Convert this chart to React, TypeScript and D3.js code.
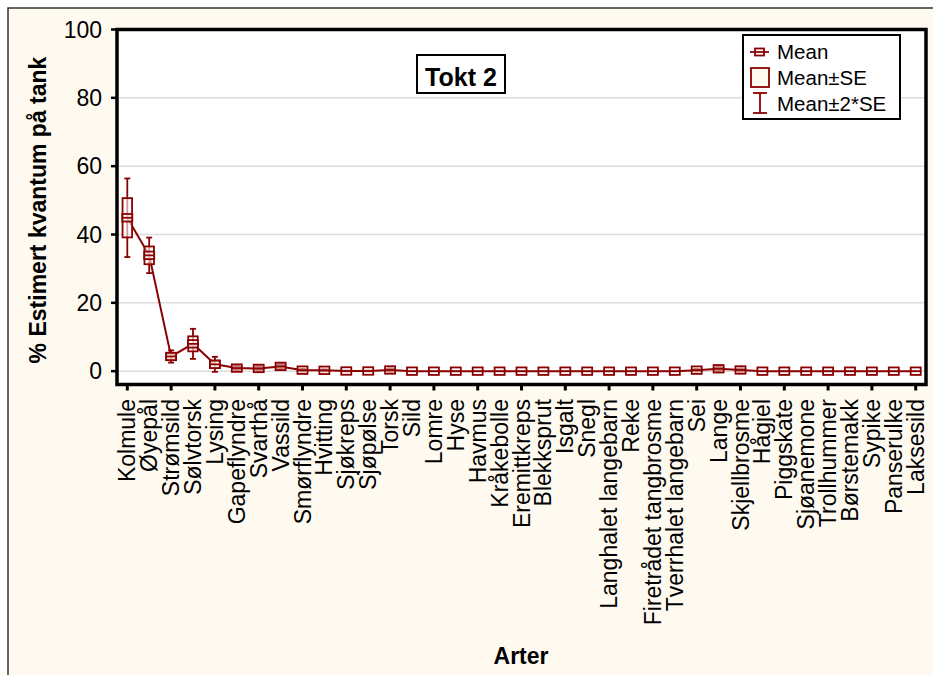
import React from "react";
import * as d3 from "d3";

const categories = [
  "Kolmule", "Øyepål", "Strømsild", "Sølvtorsk", "Lysing", "Gapeflyndre", "Svarthå", "Vassild",
  "Smørflyndre", "Hvitting", "Sjøkreps", "Sjøpølse", "Torsk", "Sild", "Lomre", "Hyse", "Havmus",
  "Kråkebolle", "Eremittkreps", "Blekksprut", "Isgalt", "Snegl", "Langhalet langebarn", "Reke",
  "Firetrådet tangbrosme", "Tverrhalet langebarn", "Sei", "Lange", "Skjellbrosme", "Hågjel",
  "Piggskate", "Sjøanemone", "Trollhummer", "Børstemakk", "Sypike", "Panserulke", "Laksesild",
];
const means = [
  44.9, 33.9, 4.3, 8.0, 2.0, 0.9, 0.8, 1.4, 0.3, 0.25, 0.05, 0.05, 0.35, 0, 0, 0, 0,
  0, 0, 0, 0, 0, 0, 0, 0, 0, 0.3, 0.7, 0.35, 0, 0, 0, 0, 0, 0, 0, 0,
];
const se = [
  5.75, 2.6, 0.9, 2.2, 1.1, 0.4, 0.35, 0.45, 0.2, 0.15, 0.05, 0.05, 0.25, 0, 0, 0, 0,
  0, 0, 0, 0, 0, 0, 0, 0, 0, 0.2, 0.35, 0.25, 0, 0, 0, 0, 0, 0, 0, 0,
];
const yTicks = [0, 20, 40, 60, 80, 100];
const gridTicks = [0, 20, 40, 60, 80];

const W = 933;
const H = 675;
const RED = "#8b0000";
const BG = "#fffaf0";
const FONT = "'Liberation Sans', Arial, sans-serif";

export default function App() {
  const left = 117, right = 926, top = 29.5, bottom = 384.5;
  const x = d3.scalePoint<string>().domain(categories).range([127.3, 915.7]);
  const y = d3.scaleLinear().domain([-3.9, 100]).range([bottom, top]);
  const line = d3
    .line<number>()
    .x((_, i) => x(categories[i]) as number)
    .y((d) => y(d));

  const boxW = 9.5;
  const capW = 6;
  const mW = 10, mH = 7.5;

  return (
    <svg
      width={W}
      height={H}
      style={{ position: "absolute", left: 0, top: 0, fontFamily: FONT }}
    >
      <rect x={0} y={0} width={W} height={H} fill="#ffffff" />
      <rect x={8} y={8} width={W + 20} height={H + 20} fill={BG} stroke="#333" strokeWidth={1.5} />
      {/* plot area */}
      <rect x={left} y={top} width={right - left} height={bottom - top} fill="#ffffff" />
      {gridTicks.map((t) => (
        <line key={"g" + t} x1={left} x2={right} y1={y(t)} y2={y(t)} stroke="#dcdcdc" strokeWidth={1.5} />
      ))}
      {/* data */}
      <path d={line(means) || ""} fill="none" stroke={RED} strokeWidth={2} />
      {means.map((m, i) => {
        const cx = x(categories[i]) as number;
        const s = se[i];
        return (
          <g key={"d" + i} stroke={RED} strokeWidth={1.8}>
            {s > 0 && (
              <>
                <line x1={cx} x2={cx} y1={y(m + 2 * s)} y2={y(m - 2 * s)} />
                <line x1={cx - capW / 2} x2={cx + capW / 2} y1={y(m + 2 * s)} y2={y(m + 2 * s)} />
                <line x1={cx - capW / 2} x2={cx + capW / 2} y1={y(m - 2 * s)} y2={y(m - 2 * s)} />
                <rect
                  x={cx - boxW / 2}
                  y={y(m + s)}
                  width={boxW}
                  height={y(m - s) - y(m + s)}
                  fill="rgba(255,255,255,0.6)"
                />
              </>
            )}
            <rect x={cx - mW / 2} y={y(m) - mH / 2} width={mW} height={mH} fill="rgba(255,255,255,0.5)" />
            <line x1={cx - mW / 2} x2={cx + mW / 2} y1={y(m)} y2={y(m)} />
          </g>
        );
      })}
      {/* frame */}
      <rect x={left} y={top} width={right - left} height={bottom - top} fill="none" stroke="#000" strokeWidth={3.5} />
      {/* y axis ticks */}
      {yTicks.map((t) => (
        <g key={"y" + t}>
          <line x1={left - 6} x2={left} y1={y(t)} y2={y(t)} stroke="#000" strokeWidth={2.5} />
          <text x={102} y={y(t)} dy="0.35em" textAnchor="end" fontSize={23} fill="#000">
            {t}
          </text>
        </g>
      ))}
      {/* x axis ticks & labels */}
      {categories.map((c, i) => {
        const cx = x(c) as number;
        return (
          <g key={"x" + i}>
            {i % 2 === 0 && (
              <line x1={cx} x2={cx} y1={bottom} y2={bottom + 6} stroke="#000" strokeWidth={3} />
            )}
            <text
              transform={`translate(${cx},399) rotate(-90)`}
              dy="0.35em"
              textAnchor="end"
              fontSize={23}
              fill="#000"
            >
              {c}
            </text>
          </g>
        );
      })}
      {/* axis titles */}
      <text
        transform="translate(45.5,210) rotate(-90)"
        textAnchor="middle"
        fontSize={23}
        fontWeight="bold"
        fill="#000"
      >
        % Estimert kvantum på tank
      </text>
      <text x={521} y={664} textAnchor="middle" fontSize={23} fontWeight="bold" fill="#000">
        Arter
      </text>
      {/* title */}
      <rect x={417} y={55} width={88} height={38} fill="#ffffff" stroke="#000" strokeWidth={2} />
      <text x={461} y={86} textAnchor="middle" fontSize={25} fontWeight="bold" fill="#000">
        Tokt 2
      </text>
      {/* legend */}
      <rect x={743} y={35} width={157} height={84} fill="#ffffff" stroke="#000" strokeWidth={2} />
      <g stroke={RED} strokeWidth={1.8}>
        <line x1={750} x2={769} y1={52} y2={52} />
        <rect x={755} y={48.5} width={9} height={7} fill="#ffffff" />
        <line x1={755} x2={764} y1={52} y2={52} />
        <rect x={751} y={68} width={18} height={19} fill={BG} />
        <line x1={760} x2={760} y1={93} y2={113} />
        <line x1={753} x2={767} y1={93} y2={93} />
        <line x1={753} x2={767} y1={113} y2={113} />
      </g>
      <text x={777} y={59} fontSize={20.5} fill="#000">Mean</text>
      <text x={777} y={85} fontSize={20.5} fill="#000">Mean±SE</text>
      <text x={777} y={111} fontSize={20.5} fill="#000">Mean±2*SE</text>
    </svg>
  );
}
